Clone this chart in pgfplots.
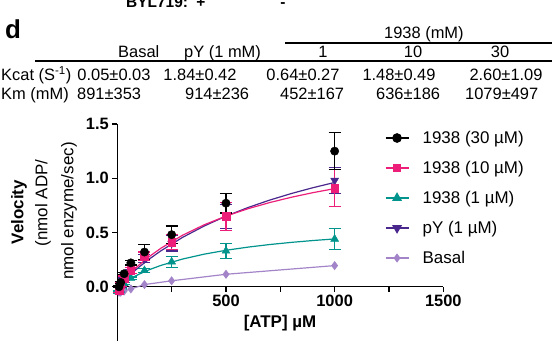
\documentclass[border=0pt]{standalone}
\usepackage{fontspec}
\setmainfont{Liberation Sans}
\usepackage{pgfplots}
\usepackage{pgfplotstable}
\pgfplotsset{compat=1.18}
\definecolor{cpink}{RGB}{236,30,121}
\definecolor{cteal}{RGB}{0,148,141}
\definecolor{cdpur}{RGB}{74,39,140}
\definecolor{clpur}{RGB}{163,132,200}
\newcommand\tf{\fontsize{16.5}{19}\selectfont}
\newcommand\lf{\fontsize{17}{20}\selectfont}
\newcommand\af{\fontsize{17}{20}\selectfont}

\pgfplotstableread{
x y e
7.8 0.00 0.01
15.6 0.04 0.01
31.25 0.12 0.01
62.5 0.22 0.02
125 0.32 0.07
250 0.48 0.08
500 0.77 0.09
1000 1.25 0.17
}\tblThirty
\pgfplotstableread{
x y e
7.8 -0.03 0.02
15.6 0.02 0.02
31.25 0.08 0.02
62.5 0.15 0.03
125 0.28 0.04
250 0.41 0.07
500 0.65 0.13
1000 0.91 0.17
}\tblTen
\pgfplotstableread{
x y e
7.8 -0.05 0.01
15.6 -0.03 0.01
31.25 0.03 0.01
62.5 0.08 0.01
125 0.15 0.02
250 0.23 0.05
500 0.33 0.07
1000 0.44 0.10
}\tblOne
\pgfplotstableread{
x y e
7.8 -0.03 0.02
15.6 0.01 0.02
31.25 0.06 0.02
62.5 0.14 0.02
125 0.26 0.04
250 0.40 0.07
500 0.65 0.11
1000 0.98 0.12
}\tblPY
\pgfplotstableread{
x y
7.8 -0.05
15.6 -0.05
31.25 -0.04
62.5 -0.02
125 0.02
250 0.055
500 0.115
1000 0.195
}\tblBasal

\begin{document}
\begin{tikzpicture}[x=1bp,y=1bp]
\useasboundingbox (0,0) rectangle (552,341);
\clip (0,0) rectangle (552,341);
% panel letter and header
\node[anchor=base west, inner sep=0pt, font=\fontsize{26}{30}\selectfont\bfseries] at (5,341-38) {d};
\node[anchor=base west, inner sep=0pt, font=\fontsize{15.5}{18}\selectfont\bfseries] at (126,341-7) {BYL719:};
\node[anchor=base, inner sep=0pt, font=\fontsize{15.5}{18}\selectfont\bfseries] at (201,341-7) {+};
\node[anchor=base, inner sep=0pt, font=\fontsize{15.5}{18}\selectfont\bfseries] at (283,341-7) {-};
% table
\node[anchor=base west, inner sep=0pt, font=\tf] at (384,341-38) {1938 (mM)};
\draw[line width=1.3bp] (285,341-43) -- (552,341-43);
\node[anchor=base west, inner sep=0pt, font=\tf] at (118,341-57) {Basal};
\node[anchor=base west, inner sep=0pt, font=\tf] at (184,341-57) {pY (1 mM)};
\node[anchor=base, inner sep=0pt, font=\tf] at (323,341-57) {1};
\node[anchor=base, inner sep=0pt, font=\tf] at (413,341-57) {10};
\node[anchor=base, inner sep=0pt, font=\tf] at (500,341-57) {30};
\draw[line width=1.3bp] (35,341-61) -- (552,341-61);
\node[anchor=base west, inner sep=0pt, font=\tf] at (1,341-80.5) {Kcat (S\textsuperscript{-1})};
\node[anchor=base, inner sep=0pt, font=\tf] at (114,341-80.5) {0.05±0.03};
\node[anchor=base, inner sep=0pt, font=\tf] at (200,341-80.5) {1.84±0.42};
\node[anchor=base, inner sep=0pt, font=\tf] at (303,341-80.5) {0.64±0.27};
\node[anchor=base, inner sep=0pt, font=\tf] at (399,341-80.5) {1.48±0.49};
\node[anchor=base, inner sep=0pt, font=\tf] at (506,341-80.5) {2.60±1.09};
\node[anchor=base west, inner sep=0pt, font=\tf] at (1,341-99) {Km (mM)};
\node[anchor=base west, inner sep=0pt, font=\tf] at (77,341-99) {891±353};
\node[anchor=base west, inner sep=0pt, font=\tf] at (185,341-99) {914±236};
\node[anchor=base west, inner sep=0pt, font=\tf] at (280,341-99) {452±167};
\node[anchor=base west, inner sep=0pt, font=\tf] at (376,341-99) {636±186};
\node[anchor=base west, inner sep=0pt, font=\tf] at (465,341-99) {1079±497};
% axis labels
\node[rotate=90, inner sep=0pt, font=\af\bfseries] at (19,341-212) {Velocity};
\node[rotate=90, inner sep=0pt, font=\af] at (43,341-203) {(nmol ADP/};
\node[rotate=90, inner sep=0pt, font=\af] at (69,341-211) {nmol enzyme/sec)};
\node[inner sep=0pt, font=\fontsize{17}{20}\selectfont\bfseries] at (280,341-323) {[ATP] µM};
\begin{axis}[
  at={(117.3bp,0bp)}, anchor=south west,
  scale only axis, width=326bp, height=217bp,
  xmin=0, xmax=1500, ymin=-0.5, ymax=1.5,
  axis x line=middle, axis y line=left,
  axis line style={-, line width=1.3bp},
  hide obscured x ticks=false, hide obscured y ticks=false,
  xtick={0,250,500,750,1000,1250,1500},
  xticklabels={,,500,,1000,,1500},
  ytick={0,0.5,1,1.5},
  yticklabels={0.0,0.5,1.0,1.5},
  tick align=outside, major tick length=5bp,
  tick style={line width=1.3bp, black},
  /pgf/number format/assume math mode=true,
  ticklabel style={font=\fontsize{16.5}{19}\selectfont\bfseries},
  clip=false,
  legend image code/.code={\draw[mark repeat=2,mark phase=2,#1] plot coordinates {(0bp,5.8bp) (11.5bp,5.8bp) (23bp,5.8bp)};},
  legend style={draw=none, fill=none, inner sep=0pt, outer sep=0pt,
    at={(0.821,0.964)}, anchor=north west, font=\lf,
    row sep=14.5bp, column sep=13.5bp,
    nodes={inner sep=0pt, text height=12bp, text depth=3.5bp, anchor=base west}},
  legend cell align=left,
]
\addlegendimage{black, line width=1.2bp, mark=*, mark size=4.2bp}
\addlegendentry{1938 (30 µM)}
\addlegendimage{cpink, line width=1.2bp, mark=square*, mark size=3.8bp}
\addlegendentry{1938 (10 µM)}
\addlegendimage{cteal, line width=1.2bp, mark=triangle*, mark size=4.6bp}
\addlegendentry{1938 (1 µM)}
\addlegendimage{cdpur, line width=1.2bp, mark=triangle*, mark options={rotate=180}, mark size=4.6bp}
\addlegendentry{pY (1 µM)}
\addlegendimage{clpur, line width=1.2bp, mark=diamond*, mark size=3.6bp}
\addlegendentry{Basal}
% Basal
\addplot[clpur, line width=1.2bp, mark=diamond*, mark size=3.6bp, forget plot] table[x=x,y=y] {\tblBasal};
% pY fit and data
\addplot[cdpur, line width=1.2bp, forget plot] coordinates {(0,0) (10,0.0199) (25,0.0490) (50,0.0954) (100,0.1815) (150,0.2594) (200,0.3303) (300,0.4547) (400,0.5601) (500,0.6506) (600,0.7292) (700,0.7980) (800,0.8588) (900,0.9129) (1000,0.9613)};
\addplot[cdpur, only marks, mark=triangle*, mark options={rotate=180}, mark size=4.6bp, forget plot,
  error bars/.cd, y dir=both, y explicit, error bar style={line width=1.2bp}, error mark options={rotate=90, mark size=6bp, line width=1.2bp}]
  table[x=x,y=y,y error=e] {\tblPY};
% 1 uM
\addplot[cteal, line width=1.2bp, forget plot] coordinates {(0,0) (10,0.0139) (25,0.0335) (50,0.0637) (100,0.1159) (150,0.1595) (200,0.1963) (300,0.2553) (400,0.3005) (500,0.3361) (600,0.3650) (700,0.3889) (800,0.4089) (900,0.4260) (1000,0.4408)};
\addplot[cteal, only marks, mark=triangle*, mark size=4.6bp, forget plot,
  error bars/.cd, y dir=both, y explicit, error bar style={line width=1.2bp}, error mark options={rotate=90, mark size=6bp, line width=1.2bp}]
  table[x=x,y=y,y error=e] {\tblOne};
% 10 uM
\addplot[cpink, line width=1.2bp, forget plot] coordinates {(0,0) (10,0.0229) (25,0.0560) (50,0.1079) (100,0.2011) (150,0.2824) (200,0.3541) (300,0.4744) (400,0.5714) (500,0.6514) (600,0.7184) (700,0.7754) (800,0.8245) (900,0.8672) (1000,0.9046)};
\addplot[cpink, only marks, mark=square*, mark size=3.8bp, forget plot,
  error bars/.cd, y dir=both, y explicit, error bar style={line width=1.2bp}, error mark options={rotate=90, mark size=6bp, line width=1.2bp}]
  table[x=x,y=y,y error=e] {\tblTen};
% 30 uM
\addplot[black, only marks, mark=*, mark size=4.2bp, forget plot,
  error bars/.cd, y dir=both, y explicit, error bar style={line width=1.2bp}, error mark options={rotate=90, mark size=6bp, line width=1.2bp}]
  table[x=x,y=y,y error=e] {\tblThirty};
\end{axis}
\end{tikzpicture}
\end{document}
